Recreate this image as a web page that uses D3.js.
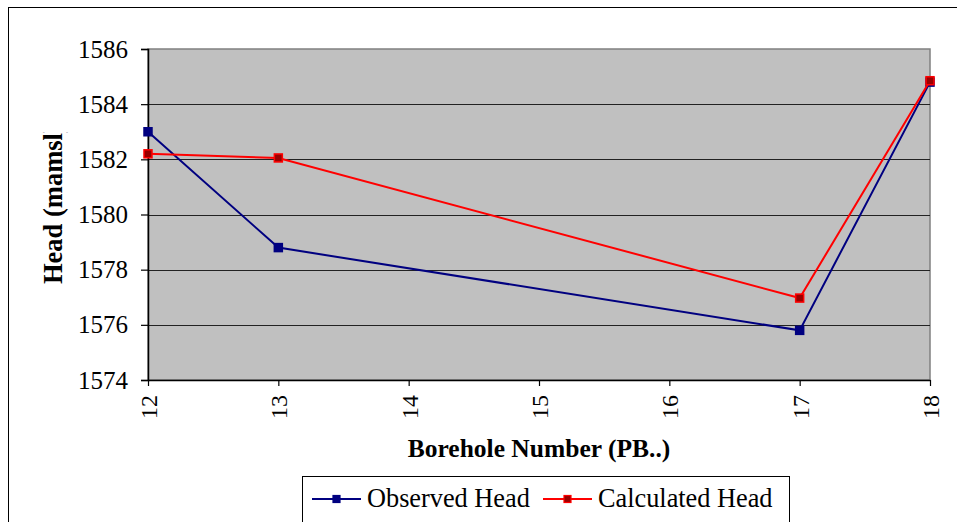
<!DOCTYPE html>
<html><head><meta charset="utf-8">
<script src="https://cdn.jsdelivr.net/npm/d3@7"></script>
<style>html,body{margin:0;padding:0;background:#fff;overflow:hidden}
svg text{font-family:'Liberation Serif','Times New Roman',serif}</style>
</head><body>
<svg id="c" width="957" height="522"></svg>
<script>
const boreholes = [12, 13, 17, 18];
const observedHead = [1583.0, 1578.8, 1575.8, 1584.8];
const calculatedHead = [1582.2, 1582.05, 1576.97, 1584.85];
const xTicks = [12, 13, 14, 15, 16, 17, 18];
const yTicks = [1574, 1576, 1578, 1580, 1582, 1584, 1586];
const seriesNames = ["Observed Head", "Calculated Head"];

const svg = d3.select("#c");
const font = "'Liberation Serif','Times New Roman',serif";
const L = 148, R = 930, T = 49, B = 380;
const x = d3.scaleLinear().domain([12, 18]).range([L, R]);
const y = d3.scaleLinear().domain([1574, 1586]).range([B, T]);

// outer border
svg.append("rect").attr("x", 8.5).attr("y", 7.5).attr("width", 1000).attr("height", 600)
  .attr("fill", "#fff").attr("stroke", "#000").attr("stroke-width", 1);

// plot area
svg.append("rect").attr("x", L).attr("y", T).attr("width", R - L).attr("height", B - T)
  .attr("fill", "#C0C0C0").attr("stroke", "#808080").attr("stroke-width", 1.5);

// gridlines
svg.append("g").selectAll("line").data(yTicks.filter(d => d > 1574 && d < 1586)).join("line")
  .attr("x1", L).attr("x2", R).attr("y1", d => Math.round(y(d)) + 0.5).attr("y2", d => Math.round(y(d)) + 0.5)
  .attr("stroke", "#222").attr("stroke-width", 1);

// y axis
const ya = svg.append("g").attr("transform", `translate(${L},0)`)
  .call(d3.axisLeft(y).tickValues(yTicks).tickFormat(d3.format("d")).tickSize(7).tickPadding(13));
ya.attr("font-family", font).attr("font-size", 25);
ya.select(".domain").attr("stroke", "#000").attr("stroke-width", 1.5);
ya.selectAll(".tick line").attr("stroke", "#000").attr("stroke-width", 1.2);
ya.selectAll("text").attr("fill", "#000");

// x axis
const xa = svg.append("g").attr("transform", `translate(0,${B})`)
  .call(d3.axisBottom(x).tickValues(xTicks).tickFormat(d3.format("d")).tickSize(6).tickSizeOuter(0));
xa.attr("font-family", font).attr("font-size", 24);
xa.select(".domain").attr("stroke", "#000").attr("stroke-width", 1.5);
xa.selectAll(".tick line").attr("stroke", "#000").attr("stroke-width", 1.2);
xa.selectAll("text").attr("fill", "#000")
  .attr("transform", "rotate(-90)").attr("text-anchor", "end")
  .attr("x", -15).attr("y", 0).attr("dy", "0.35em");

// titles
svg.append("text").attr("x", 539).attr("y", 457).attr("text-anchor", "middle")
  .attr("font-family", font).attr("font-weight", "bold").attr("font-size", 25.5)
  .text("Borehole Number (PB..)");

svg.append("clipPath").attr("id", "yc").append("rect").attr("x", 0).attr("y", 132).attr("width", 120).attr("height", 300);
svg.append("g").attr("clip-path", "url(#yc)")
  .append("text")
  .attr("transform", "translate(62,284) rotate(-90)").attr("text-anchor", "start")
  .attr("font-family", font).attr("font-weight", "bold").attr("font-size", 26.5)
  .text("Head (mamsl)");

// series
const colors = ["#000080", "#FF0000"];
const fills = ["#000080", "#990000"];
const series = [observedHead, calculatedHead];
const line = d3.line().x(d => x(d[0])).y(d => y(d[1]));
series.forEach((vals, i) => {
  const pts = boreholes.map((b, j) => [b, vals[j]]);
  svg.append("path").datum(pts).attr("d", line).attr("fill", "none")
    .attr("stroke", colors[i]).attr("stroke-width", 2);
  svg.append("g").selectAll("rect").data(pts).join("rect")
    .attr("x", d => x(d[0]) - 4).attr("y", d => y(d[1]) - 4).attr("width", 8).attr("height", 8)
    .attr("fill", fills[i]).attr("stroke", colors[i]).attr("stroke-width", 1.5);
});

// legend
const lg = svg.append("g");
lg.append("rect").attr("x", 302.5).attr("y", 476.5).attr("width", 487).attr("height", 80)
  .attr("fill", "#fff").attr("stroke", "#000").attr("stroke-width", 1);
const lx = [312, 543];
seriesNames.forEach((n, i) => {
  lg.append("line").attr("x1", lx[i]).attr("x2", lx[i] + 49).attr("y1", 499).attr("y2", 499)
    .attr("stroke", colors[i]).attr("stroke-width", 2);
  lg.append("rect").attr("x", lx[i] + 24.5 - 3.5).attr("y", 499 - 3.5).attr("width", 7).attr("height", 7)
    .attr("fill", fills[i]).attr("stroke", colors[i]).attr("stroke-width", 1.2);
  lg.append("text").attr("x", lx[i] + 55).attr("y", 507).attr("font-family", font).attr("font-size", 26.3)
    .text(n);
});
</script>
</body></html>
